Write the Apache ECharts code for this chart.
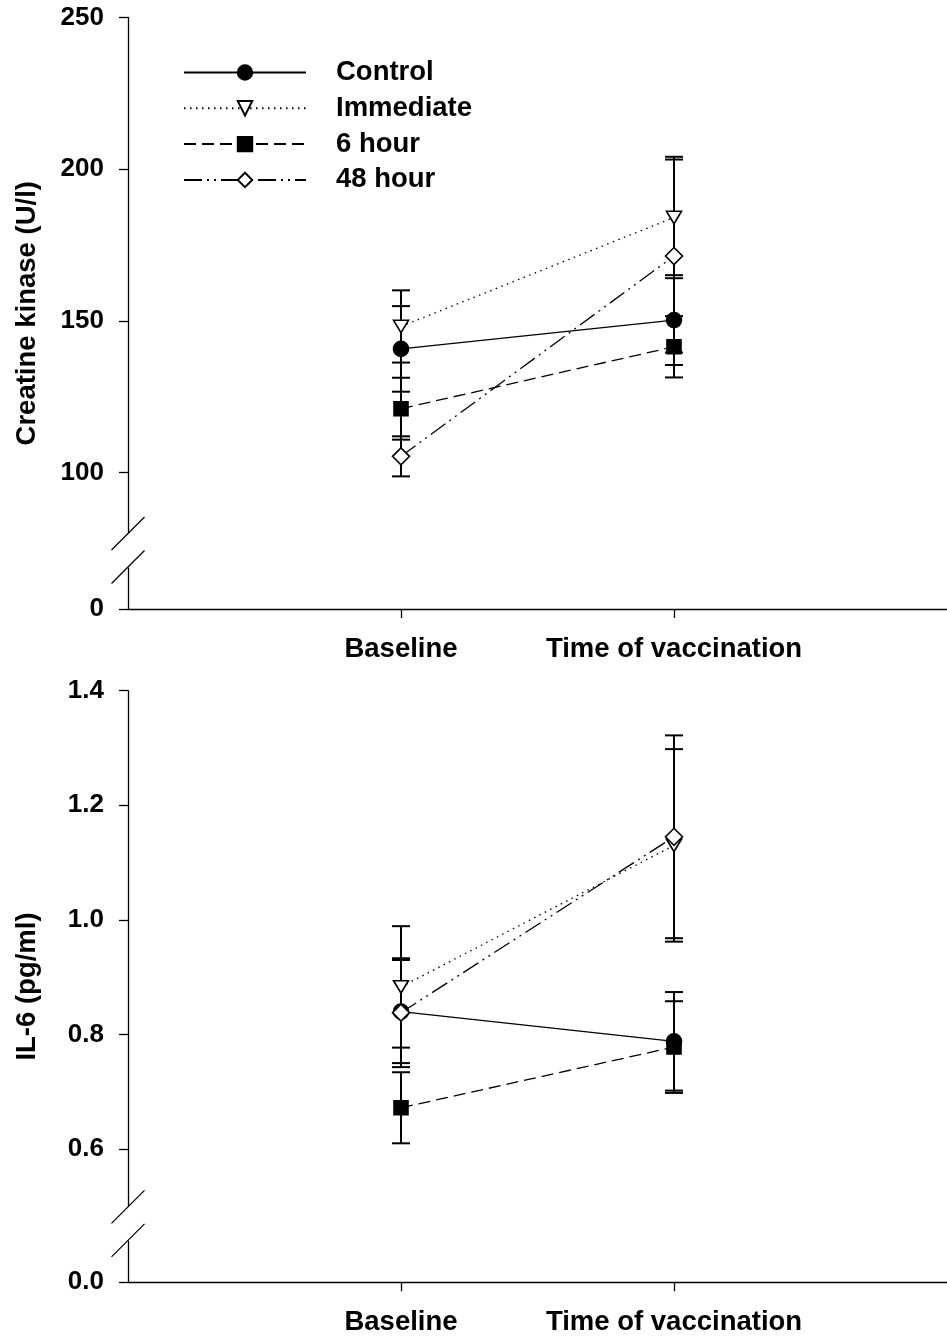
<!DOCTYPE html>
<html>
<head>
<meta charset="utf-8">
<script src="https://cdn.jsdelivr.net/npm/echarts@6/dist/echarts.min.js"></script>
<style>
  html, body { margin: 0; padding: 0; background: #fff; }
  #chart { width: 947px; height: 1338px; }
</style>
</head>
<body>
<div id="chart"></div>
<script>
// Time points on the x axis
const timeLabels = ['Baseline', 'Time of vaccination'];
const timePositions = [1, 2];
const groupNames = ['Control', 'Immediate', '6 hour', '48 hour'];

// Creatine kinase (U/l): mean and error bar half-length per time point
const ckControl = [140.8, 150.3];
const ckControlErr = [14.1, 14.8];
const ckImmediate = [148.2, 184.1];
const ckImmediateErr = [11.9, 20.0];
const ck6h = [121.1, 141.5];
const ck6hErr = [10.2, 10.1];
const ck48h = [105.4, 171.4];
const ck48hErr = [6.6, 31.8];

// IL-6 (pg/ml): mean and error bar half-length per time point
const ilControl = [0.840, 0.788];
const ilControlErr = [0.090, 0.086];
const ilImmediate = [0.883, 1.130];
const ilImmediateErr = [0.106, 0.168];
const il6h = [0.672, 0.778];
const il6hErr = [0.062, 0.080];
const il48h = [0.838, 1.145];
const il48hErr = [0.095, 0.177];

// Tick labels; the zero tick sits below an axis break
const ckTicks = [0, 100, 150, 200, 250];
const ilTicks = [0.0, 0.6, 0.8, 1.0, 1.2, 1.4];
const ckFloor = 55.1;    // axis position used for the "0" tick
const ilFloor = 0.3674;  // axis position used for the "0.0" tick

const FONT = '"Liberation Sans", Arial, Helvetica, sans-serif';
const textBold = { fontFamily: FONT, fontSize: 27.5, fontWeight: 'bold', color: '#000' };
const tickText = { fontFamily: FONT, fontSize: 26, fontWeight: 'bold', color: '#000' };

const groupStyles = [
  { symbol: 'circle', size: 15, fill: '#000', dash: 'solid' },
  { symbol: 'path://M0,0L12,0L6,10.4Z', size: [15, 12.5], fill: '#fff', dash: [1.5, 4.5] },
  { symbol: 'rect', size: 14, fill: '#000', dash: [12, 6] },
  { symbol: 'diamond', size: 17, fill: '#fff', dash: [18, 5, 2, 5, 2, 5] }
];

const ckSets = [[ckControl, ckControlErr], [ckImmediate, ckImmediateErr], [ck6h, ck6hErr], [ck48h, ck48hErr]];
const ilSets = [[ilControl, ilControlErr], [ilImmediate, ilImmediateErr], [il6h, il6hErr], [il48h, il48hErr]];

function tickPositions(ticks, floor) {
  return ticks.map(t => (t === 0 ? floor : t));
}

function errorBarItem(params, api) {
  const x = api.value(0), m = api.value(1), e = api.value(2);
  const top = api.coord([x, m + e]);
  const bot = api.coord([x, m - e]);
  const hw = 9;
  const style = { stroke: '#000', lineWidth: 2, fill: null };
  return {
    type: 'group',
    children: [
      { type: 'line', shape: { x1: top[0], y1: top[1], x2: bot[0], y2: bot[1] }, style },
      { type: 'line', shape: { x1: top[0] - hw, y1: top[1], x2: top[0] + hw, y2: top[1] }, style },
      { type: 'line', shape: { x1: bot[0] - hw, y1: bot[1], x2: bot[0] + hw, y2: bot[1] }, style }
    ]
  };
}

function panelSeries(sets, axisIndex) {
  const out = [];
  sets.forEach(([means, errs], i) => {
    out.push({
      type: 'custom',
      name: groupNames[i] + ' error',
      xAxisIndex: axisIndex, yAxisIndex: axisIndex,
      renderItem: errorBarItem,
      encode: { x: 0, y: 1 },
      data: timePositions.map((x, k) => [x, means[k], errs[k]]),
      z: 1, silent: true
    });
  });
  sets.forEach(([means], i) => {
    const s = groupStyles[i];
    out.push({
      type: 'line',
      name: groupNames[i],
      xAxisIndex: axisIndex, yAxisIndex: axisIndex,
      data: timePositions.map((x, k) => [x, means[k]]),
      symbol: s.symbol,
      symbolSize: s.size,
      showAllSymbol: true,
      lineStyle: { color: '#000', width: 1.3, type: s.dash },
      itemStyle: { color: s.fill, borderColor: '#000', borderWidth: 1.6 },
      emphasis: { disabled: true },
      z: 3 + i,
      silent: true
    });
  });
  return out;
}

function xAxisDef(gridIndex) {
  return {
    type: 'value', gridIndex, min: 0, max: 3,
    axisLine: { show: true, onZero: false, lineStyle: { color: '#000', width: 1.3 } },
    axisTick: { show: true, inside: false, length: 9, customValues: timePositions, lineStyle: { color: '#000', width: 1.3 } },
    axisLabel: {
      customValues: timePositions, margin: 26, ...textBold,
      formatter: v => timeLabels[timePositions.indexOf(v)] || ''
    },
    splitLine: { show: false }
  };
}

function yAxisDef(gridIndex, ticks, floor, max, name, fmt) {
  const pos = tickPositions(ticks, floor);
  return {
    type: 'value', gridIndex, min: floor, max,
    axisLine: { show: true, onZero: false, lineStyle: { color: '#000', width: 1.3 } },
    axisTick: { show: true, inside: false, length: 9, customValues: pos, lineStyle: { color: '#000', width: 1.3 } },
    axisLabel: {
      customValues: pos, margin: 24, ...tickText,
      formatter: v => fmt(Math.abs(v - floor) < 1e-9 ? 0 : v)
    },
    splitLine: { show: false },
    name, nameLocation: 'middle', nameGap: 87, nameRotate: 90,
    nameTextStyle: textBold
  };
}

const chart = echarts.init(document.getElementById('chart'), null, { renderer: 'canvas' });

chart.setOption({
  backgroundColor: '#fff',
  animation: false,
  grid: [
    { left: 128, right: 0, top: 17.5, bottom: 729 },
    { left: 128, right: 0, top: 690.7, bottom: 55.7 }
  ],
  xAxis: [xAxisDef(0), xAxisDef(1)],
  yAxis: [
    yAxisDef(0, ckTicks, ckFloor, 250, 'Creatine kinase (U/l)', v => String(Math.round(v))),
    yAxisDef(1, ilTicks, ilFloor, 1.4, 'IL-6 (pg/ml)', v => v.toFixed(1))
  ],
  legend: {
    orient: 'vertical', left: 183, top: 58.5, padding: 0,
    itemWidth: 122, itemHeight: 18, itemGap: 7.8,
    selectedMode: false,
    data: groupNames,
    textStyle: { ...textBold, padding: [0, 0, 0, 25] }
  },
  series: [...panelSeries(ckSets, 0), ...panelSeries(ilSets, 1)]
});

// Axis-break marks: a gap in each y axis line with two parallel slashes
function breakGraphics(axisIndex, floor) {
  const x0 = chart.convertToPixel({ xAxisIndex: axisIndex }, 0);
  const y0 = chart.convertToPixel({ yAxisIndex: axisIndex }, floor);
  const lineStyle = { stroke: '#000', lineWidth: 1.2 };
  return [
    { type: 'rect', shape: { x: x0 - 3, y: y0 - 75.5, width: 6, height: 34 }, style: { fill: '#fff' }, z: 100 },
    { type: 'line', shape: { x1: x0 - 16.5, y1: y0 - 59, x2: x0 + 16.5, y2: y0 - 92 }, style: lineStyle, z: 101 },
    { type: 'line', shape: { x1: x0 - 16.5, y1: y0 - 25.5, x2: x0 + 16.5, y2: y0 - 58.5 }, style: lineStyle, z: 101 }
  ];
}

chart.setOption({
  graphic: [...breakGraphics(0, ckFloor), ...breakGraphics(1, ilFloor)]
});
</script>
</body>
</html>
